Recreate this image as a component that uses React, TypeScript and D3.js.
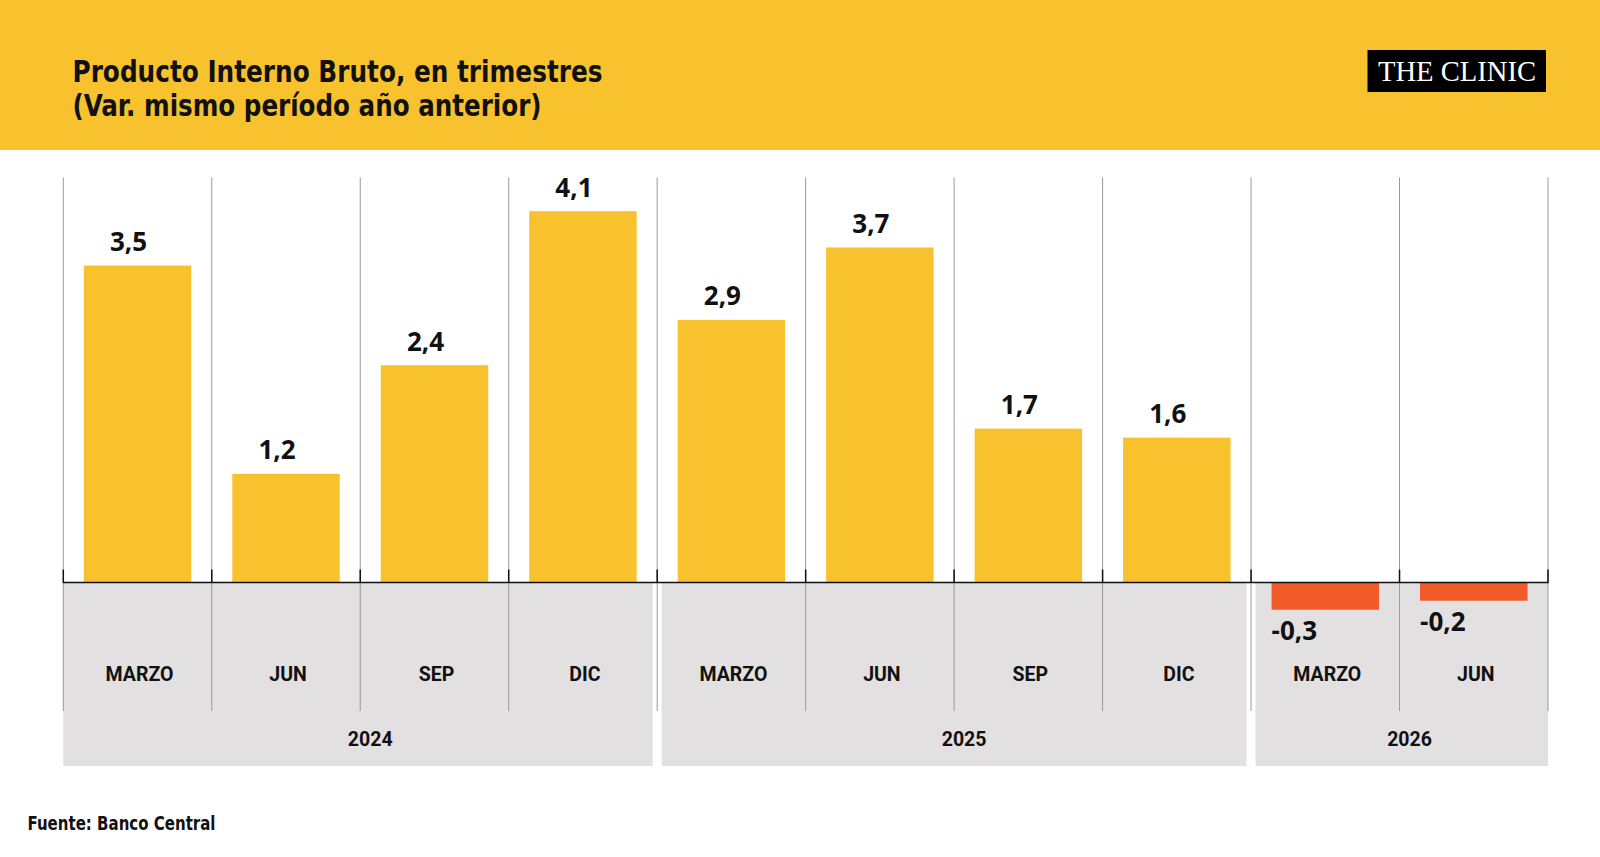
import React from "react";
import * as d3 from "d3";

const categories = ["MARZO", "JUN", "SEP", "DIC", "MARZO", "JUN", "SEP", "DIC", "MARZO", "JUN"];
const years = ["2024", "2024", "2024", "2024", "2025", "2025", "2025", "2025", "2026", "2026"];
const values = [3.5, 1.2, 2.4, 4.1, 2.9, 3.7, 1.7, 1.6, -0.3, -0.2];
const yearLabels = ["2024", "2025", "2026"];

const title1 = "Producto Interno Bruto, en trimestres";
const title2 = "(Var. mismo período año anterior)";
const source = "Fuente: Banco Central";

const W = 1600;
const H = 857;
const YELLOW = "#F8C22E";
const ORANGE = "#F15A29";
const GRAY = "#E2E0E0";

const condensed = "'DejaVu Sans Condensed', 'Liberation Sans Narrow', 'Roboto', sans-serif";
const bold = "'Open Sans', 'Roboto', sans-serif";
const ui = "'Roboto', 'Open Sans', sans-serif";

export default function App() {
  const left = 63.3;
  const right = 1548;
  const plotTop = 177.5;
  const monthBottom = 711;
  const yearBottom = 766;

  const idx = values.map((_, i) => i);
  const x = d3.scaleBand<number>().domain(idx).range([left, right]).paddingInner(0).paddingOuter(0);
  const bw = x.bandwidth();
  const barPad = 20.5;
  const y = d3.scaleLinear().domain([0, 4.1]).range([582.6, 211.2]);
  const y0 = y(0);
  const fmt = (v: number) => d3.format(".1f")(v).replace(".", ",").replace("−", "-");

  const yearGroups = yearLabels.map((yr) => {
    const ids = idx.filter((i) => years[i] === yr);
    const x0 = x(ids[0])!;
    const x1 = x(ids[ids.length - 1])! + bw;
    return {
      yr,
      x0: Math.abs(x0 - left) < 0.5 ? x0 : x0 + 4.5,
      x1: x1 >= right - 0.5 ? x1 : x1 - 4.5,
      cx: (x0 + x1) / 2 + 10,
    };
  });

  const gridXs = [...idx.map((i) => x(i)!), right];

  return (
    <div style={{ position: "absolute", left: 0, top: 0, width: W, height: H, background: "#fff" }}>
      <svg width={W} height={H} viewBox={`0 0 ${W} ${H}`}>
        <rect x={0} y={0} width={W} height={H} fill="#fff" />
        <rect x={0} y={0} width={W} height={150} fill={YELLOW} />
        <text
          x={72.5}
          y={82}
          fontFamily={condensed}
          fontWeight={700}
          fontSize={31}
          fill="#111"
          textLength={530}
          lengthAdjust="spacingAndGlyphs"
        >
          {title1}
        </text>
        <text
          x={72.5}
          y={116}
          fontFamily={condensed}
          fontWeight={700}
          fontSize={31}
          fill="#111"
          textLength={469}
          lengthAdjust="spacingAndGlyphs"
        >
          {title2}
        </text>
        <rect x={1367.5} y={50} width={178.5} height={42} fill="#000" />
        <text
          x={1378}
          y={80.5}
          fontFamily="'Liberation Serif', 'DejaVu Serif', serif"
          fontSize={30}
          fill="#fff"
          textLength={158}
          lengthAdjust="spacingAndGlyphs"
        >
          THE CLINIC
        </text>

        {/* gray label areas */}
        {yearGroups.map((g) => (
          <rect key={g.yr} x={g.x0} y={y0} width={g.x1 - g.x0} height={yearBottom - y0} fill={GRAY} />
        ))}

        {/* gridlines */}
        {gridXs.map((gx, i) => (
          <line key={i} x1={gx} x2={gx} y1={plotTop} y2={monthBottom} stroke="#9a9a9a" strokeWidth={1} />
        ))}

        {/* bars */}
        {values.map((v, i) => (
          <rect
            key={i}
            x={x(i)! + barPad}
            y={Math.min(y(v), y0)}
            width={bw - 2 * barPad}
            height={Math.abs(y(v) - y0)}
            fill={v >= 0 ? YELLOW : ORANGE}
          />
        ))}

        {/* axis */}
        <line x1={left - 0.5} x2={right + 0.5} y1={y0} y2={y0} stroke="#111" strokeWidth={1.5} />
        {gridXs.map((gx, i) => (
          <line key={i} x1={gx} x2={gx} y1={y0 - 13} y2={y0} stroke="#111" strokeWidth={1.5} />
        ))}

        {/* value labels */}
        {values.map((v, i) =>
          v >= 0 ? (
            <text
              key={i}
              x={x(i)! + bw / 2 - 9}
              y={y(v) - 14.5}
              textAnchor="middle"
              fontFamily={bold}
              fontWeight={700}
              fontSize={26}
              fill="#111"
            >
              {fmt(v)}
            </text>
          ) : (
            <text
              key={i}
              x={x(i)! + barPad}
              y={y(v) + 30}
              textAnchor="start"
              fontFamily={bold}
              fontWeight={700}
              fontSize={26}
              fill="#111"
            >
              {fmt(v)}
            </text>
          )
        )}

        {/* month labels */}
        {categories.map((c, i) => (
          <text
            key={i}
            x={x(i)! + bw / 2 + 2}
            y={681}
            textAnchor="middle"
            fontFamily={ui}
            fontWeight={700}
            fontSize={19.5}
            fill="#111"
          >
            {c}
          </text>
        ))}

        {/* year labels */}
        {yearGroups.map((g) => (
          <text key={g.yr} x={g.cx} y={745.5} textAnchor="middle" fontFamily={ui} fontWeight={700} fontSize={19.5} fill="#111">
            {g.yr}
          </text>
        ))}

        <text
          x={27.5}
          y={830}
          fontFamily={condensed}
          fontWeight={700}
          fontSize={20}
          fill="#111"
          textLength={188}
          lengthAdjust="spacingAndGlyphs"
        >
          {source}
        </text>
      </svg>
    </div>
  );
}
